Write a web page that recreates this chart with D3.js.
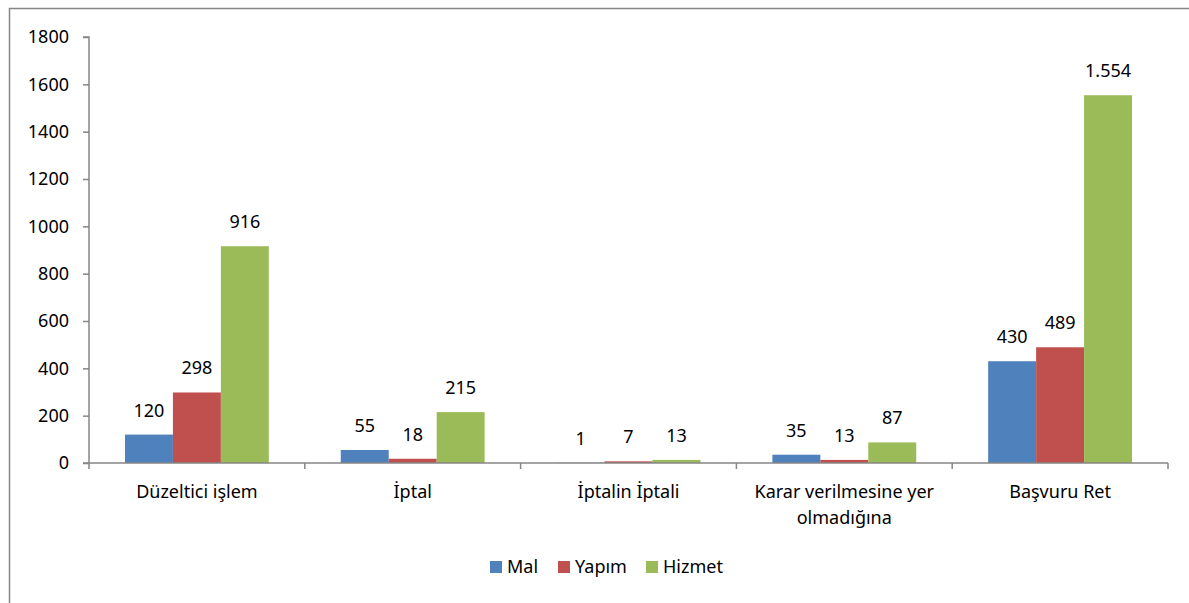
<!DOCTYPE html>
<html>
<head>
<meta charset="utf-8">
<script src="https://cdn.jsdelivr.net/npm/d3@7"></script>
<style>
  body { margin: 0; background: #fff; }
  text { font-family: "Noto Sans", sans-serif; fill: #000; }
</style>
</head>
<body>
<svg id="chart" width="1189" height="603"></svg>
<script>
// Chart data
var categories = ["Düzeltici işlem", "İptal", "İptalin İptali", "Karar verilmesine yer olmadığına", "Başvuru Ret"];
var seriesNames = ["Mal", "Yapım", "Hizmet"];
var seriesColors = ["#4F81BD", "#C0504D", "#9BBB59"];
var malValues = [120, 55, 1, 35, 430];
var yapimValues = [298, 18, 7, 13, 489];
var hizmetValues = [916, 215, 13, 87, 1554];
var yTicks = [0, 200, 400, 600, 800, 1000, 1200, 1400, 1600, 1800];

var values = [malValues, yapimValues, hizmetValues];

var svg = d3.select("#chart");
var axisColor = "#868686";
var fontSize = "18px";

// Outer border of the chart area
svg.append("rect")
  .attr("x", 9.5)
  .attr("y", 8.5)
  .attr("width", 1200)
  .attr("height", 620)
  .attr("fill", "none")
  .attr("stroke", axisColor)
  .attr("stroke-width", 1.5);

var plotLeft = 89, plotRight = 1168, plotTop = 37, plotBottom = 463;

var x = d3.scaleBand()
  .domain(categories)
  .range([plotLeft, plotRight]);

// bars take 2/3 of each category band
var xInner = d3.scaleBand()
  .domain(seriesNames)
  .range([0, x.bandwidth()])
  .paddingOuter(0.75);

var y = d3.scaleLinear()
  .domain([0, 1800])
  .range([plotBottom, plotTop]);

var fmt = d3.formatLocale({decimal: ",", thousands: ".", grouping: [3], currency: ["", " TL"]}).format(",d");

// Bars
var groups = svg.selectAll(".group")
  .data(categories)
  .enter().append("g")
  .attr("class", "group")
  .attr("transform", d => `translate(${x(d)},0)`);

groups.selectAll("rect")
  .data((d, i) => seriesNames.map((s, j) => ({series: s, color: seriesColors[j], value: values[j][i]})))
  .enter().append("rect")
  .attr("x", d => xInner(d.series))
  .attr("width", xInner.bandwidth())
  .attr("y", d => y(d.value))
  .attr("height", d => plotBottom - y(d.value))
  .attr("fill", d => d.color);

// Value labels
groups.selectAll("text.value")
  .data((d, i) => seriesNames.map((s, j) => ({series: s, value: values[j][i]})))
  .enter().append("text")
  .attr("class", "value")
  .attr("x", d => xInner(d.series) + xInner.bandwidth() / 2)
  .attr("y", d => y(d.value) - 18)
  .attr("text-anchor", "middle")
  .attr("font-size", fontSize)
  .text(d => fmt(d.value));

// Y axis
var yAxis = svg.append("g")
  .attr("transform", `translate(${plotLeft},0)`)
  .call(d3.axisLeft(y).tickValues(yTicks).tickSize(6).tickPadding(14).tickFormat(d3.format("d")));
yAxis.selectAll("text").attr("font-size", fontSize).attr("font-family", "Noto Sans").attr("fill", "#000");
yAxis.selectAll("line, path").attr("stroke", axisColor).attr("stroke-width", 1.5);
yAxis.select(".domain").attr("d", `M-6,${plotTop}H0V${plotBottom}H-6`);

// X axis
var xAxis = svg.append("g")
  .attr("transform", `translate(0,${plotBottom})`);
xAxis.append("line")
  .attr("x1", plotLeft).attr("x2", plotRight)
  .attr("stroke", axisColor).attr("stroke-width", 1.5);
var boundaries = categories.map(d => x(d)).concat([plotRight]);
xAxis.selectAll(".xtick")
  .data(boundaries)
  .enter().append("line")
  .attr("x1", d => d).attr("x2", d => d)
  .attr("y1", 0).attr("y2", 6)
  .attr("stroke", axisColor).attr("stroke-width", 1.5);

// Category labels (wrapped)
var catLines = [["Düzeltici işlem"], ["İptal"], ["İptalin İptali"], ["Karar verilmesine yer", "olmadığına"], ["Başvuru Ret"]];
xAxis.selectAll(".cat")
  .data(categories)
  .enter().append("text")
  .attr("class", "cat")
  .attr("x", d => x(d) + x.bandwidth() / 2)
  .attr("y", 35)
  .attr("text-anchor", "middle")
  .attr("font-size", fontSize)
  .each(function(d, i) {
    var t = d3.select(this);
    catLines[i].forEach((line, k) => {
      t.append("tspan")
        .attr("x", x(d) + x.bandwidth() / 2)
        .attr("dy", k === 0 ? 0 : 26)
        .text(line);
    });
  });

// Legend
var legendX = [490, 558, 646];
var legend = svg.append("g").attr("transform", "translate(0,561)");
seriesNames.forEach((s, i) => {
  legend.append("rect")
    .attr("x", legendX[i]).attr("y", 0)
    .attr("width", 12).attr("height", 12)
    .attr("fill", seriesColors[i]);
  legend.append("text")
    .attr("x", legendX[i] + 17).attr("y", 12)
    .attr("font-size", fontSize)
    .text(s);
});
</script>
</body>
</html>
